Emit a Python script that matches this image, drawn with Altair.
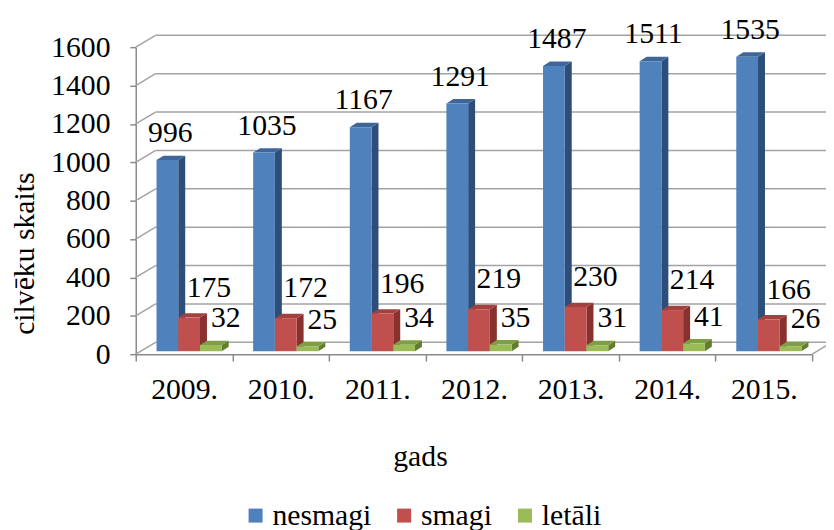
import json
import altair as alt
import pandas as pd

# ---------------- data ----------------
years = ["2009.", "2010.", "2011.", "2012.", "2013.", "2014.", "2015."]
series = ["nesmagi", "smagi", "letāli"]
nesmagi = [996, 1035, 1167, 1291, 1487, 1511, 1535]
smagi = [175, 172, 196, 219, 230, 214, 166]
letali = [32, 25, 34, 35, 31, 41, 26]
y_ticks = [0, 200, 400, 600, 800, 1000, 1200, 1400, 1600]

# ---------------- styles ----------------
front_colors = ["#4f81bd", "#c0504d", "#9bbb59"]
top_colors = ["#3e6699", "#a4413e", "#7f9f45"]
side_colors = ["#2d4e78", "#88312f", "#617d30"]
GRID = "#a3a3a3"
AXIS = "#8a8a8a"
FONT = "Liberation Serif"
FS = 30

W, H = 683, 310
PAD_L, PAD_T = 129, 37

# geometry of the pseudo-3D bars (axis units)
BAR_START = 0.215
BAR_W = 0.225
DEPTH_X = 0.072
DEPTH_Y = 23
WALL_DX, WALL_DY = 20, -12   # back wall offset, px
BAR_DY = -3                   # bars sit slightly behind the front edge, px

values = {"nesmagi": nesmagi, "smagi": smagi, "letāli": letali}

bar_rows, side_rows, top_rows = [], [], []
for s_i, s in enumerate(series):
    for i, (yr, v) in enumerate(zip(years, values[s])):
        xl = i + BAR_START + s_i * BAR_W
        xr = xl + BAR_W
        bid = f"{s}-{yr}"
        bar_rows.append(dict(year=yr, series=s, value=v, xl=xl, xr=xr, xc=(xl + xr) / 2))
        side_rows += [
            dict(series=s, bar=bid, x=xr, lo=0, hi=v),
            dict(series=s, bar=bid, x=xr + DEPTH_X, lo=DEPTH_Y, hi=v + DEPTH_Y),
        ]
        top_rows += [
            dict(series=s, bar=bid, x=xl, lo=v, hi=v),
            dict(series=s, bar=bid, x=xl + DEPTH_X, lo=v, hi=v + DEPTH_Y),
            dict(series=s, bar=bid, x=xr, lo=v, hi=v + DEPTH_Y),
            dict(series=s, bar=bid, x=xr + DEPTH_X, lo=v + DEPTH_Y, hi=v + DEPTH_Y),
        ]

bars = pd.DataFrame(bar_rows)
sides = pd.DataFrame(side_rows)
tops = pd.DataFrame(top_rows)
grid = pd.DataFrame({"v": y_ticks})

n = len(years)
xscale = alt.Scale(domain=[0, n], nice=False, zero=False)
yscale = alt.Scale(domain=[0, 1600], nice=False, zero=False)

label_expr = f"datum.value < {n} ? {json.dumps(years, ensure_ascii=False)}[datum.value] : ''"
xaxis = alt.Axis(
    values=list(range(n + 1)), labelExpr=label_expr, labelOffset=W / n / 2,
    labelFlush=False, labelOverlap=False, grid=False,
    tickSize=7, tickColor=AXIS, domainColor=AXIS, tickWidth=1.5, domainWidth=1.5,
    labelFont=FONT, labelFontSize=FS, labelColor="black", labelPadding=14,
    title="gads", titleFont=FONT, titleFontSize=FS, titleFontWeight="normal",
    titleColor="black", titleX=287, titleY=112, titleBaseline="alphabetic",
)
yaxis = alt.Axis(
    values=y_ticks, format="d", grid=False, tickSize=6, tickColor=AXIS, domainColor=AXIS,
    tickWidth=1.5, domainWidth=1.5,
    labelFont=FONT, labelFontSize=FS, labelColor="black", labelPadding=20,
    title="cilvēku skaits", titleFont=FONT, titleFontSize=FS, titleFontWeight="normal",
    titleColor="black", titleX=-97, titleY=208,
)

X = lambda f: alt.X(f, scale=xscale, axis=xaxis)
Y = lambda f: alt.Y(f, scale=yscale, axis=yaxis)

# back-wall gridlines
wall = alt.Chart(grid).mark_rule(
    color=GRID, strokeWidth=1.5, xOffset=WALL_DX, x2Offset=WALL_DX, yOffset=WALL_DY
).encode(
    x=alt.XDatum(0, scale=xscale, axis=xaxis), x2=alt.X2Datum(n), y=Y("v:Q")
)
# side-wall diagonals
diag = alt.Chart(grid).mark_rule(
    color=GRID, strokeWidth=1.5, x2Offset=WALL_DX, y2Offset=WALL_DY
).encode(
    x=alt.XDatum(0, scale=xscale, axis=xaxis), x2=alt.X2Datum(0),
    y=Y("v:Q"), y2=alt.Y2("v:Q")
)
# floor right edge
floor_r = alt.Chart(grid).transform_filter("datum.v == 0").mark_rule(
    color=GRID, strokeWidth=1.5, x2Offset=WALL_DX, y2Offset=WALL_DY
).encode(
    x=alt.XDatum(n, scale=xscale, axis=xaxis), x2=alt.X2Datum(n),
    y=Y("v:Q"), y2=alt.Y2("v:Q")
)

side_layers, top_layers = [], []
for s_i, s in enumerate(series):
    side_layers.append(
        alt.Chart(sides).transform_filter(alt.datum.series == s).mark_area(
            color=side_colors[s_i], yOffset=BAR_DY, y2Offset=BAR_DY
        ).encode(x=X("x:Q"), y=Y("hi:Q"), y2=alt.Y2("lo:Q"), detail="bar:N")
    )
    top_layers.append(
        alt.Chart(tops).transform_filter(alt.datum.series == s).mark_area(
            color=top_colors[s_i], yOffset=BAR_DY, y2Offset=BAR_DY
        ).encode(x=X("x:Q"), y=Y("hi:Q"), y2=alt.Y2("lo:Q"), detail="bar:N")
    )

front_layer = alt.Chart(bars).mark_bar(yOffset=BAR_DY, y2Offset=BAR_DY).encode(
    x=X("xl:Q"), x2="xr:Q", y=Y("value:Q"), y2=alt.Y2(datum=0),
    color=alt.Color(
        "series:N",
        scale=alt.Scale(domain=series, range=front_colors),
        sort=series,
        legend=alt.Legend(
            orient="none", legendX=106, legendY=458, direction="horizontal",
            title=None, symbolType="square", symbolSize=200, symbolStrokeWidth=0,
            labelFont=FONT, labelFontSize=FS, labelColor="black",
            labelOffset=2, columnPadding=18,
        ),
    ),
)

label_offsets = {"nesmagi": (3, -18), "smagi": (20, -21), "letāli": (15, -18)}
label_layers = []
for s in series:
    dx, dy = label_offsets[s]
    label_layers.append(
        alt.Chart(bars).transform_filter(alt.datum.series == s).mark_text(
            font=FONT, fontSize=FS, color="black", baseline="alphabetic",
            align="center", dx=dx, dy=dy + BAR_DY,
        ).encode(x=X("xc:Q"), y=Y("value:Q"), text="value:Q")
    )

chart = alt.layer(
    wall, diag, floor_r, *side_layers, *top_layers, front_layer, *label_layers
).properties(
    width=W, height=H,
    autosize=alt.AutoSizeParams(type="none"),
    padding={"left": PAD_L, "top": PAD_T, "right": 826 - PAD_L - W, "bottom": 522 - PAD_T - H},
    background="white",
).configure(font=FONT).configure_view(stroke=None).configure_axis(
    labelFont=FONT, titleFont=FONT
).configure_legend(labelFont=FONT).configure_text(font=FONT)

chart.save("out.html", embed_options={"renderer": "svg", "actions": False})
